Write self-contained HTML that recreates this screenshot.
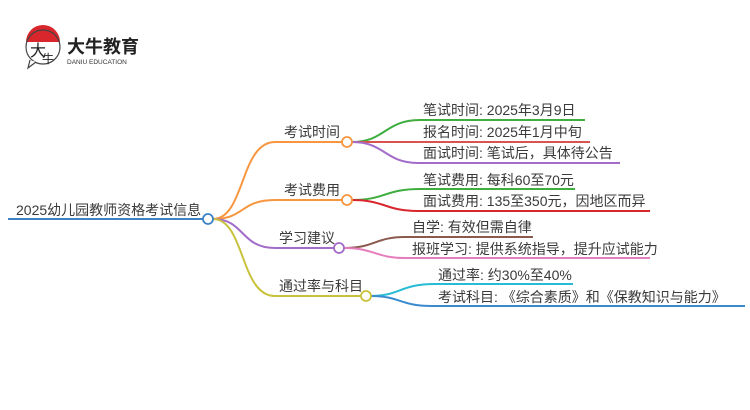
<!DOCTYPE html>
<html><head><meta charset="utf-8"><style>
html,body{margin:0;padding:0;background:#fff;width:750px;height:410px;overflow:hidden}
svg{display:block}
text{font-family:"Liberation Sans","Noto Sans CJK SC",sans-serif;fill:#3a3a3a}
</style></head><body>
<svg width="750" height="410" viewBox="0 0 750 410" xmlns="http://www.w3.org/2000/svg">
<!-- logo -->
<path d="M26 42 A17 17 0 0 1 60 42 Z" fill="#d8262c"/>
<circle cx="43" cy="47" r="17" fill="none" stroke="#444" stroke-width="1.2"/>
<path d="M30 60 L28 68 L36 62" fill="#fff" stroke="#444" stroke-width="1.2"/>
<text x="30" y="56" font-size="16" style="fill:#222">大</text>
<text x="42" y="63" font-size="12" style="fill:#222">牛</text>
<text x="67" y="53" font-size="18" font-weight="bold" style="fill:#222">大牛教育</text>
<text x="67" y="64" font-size="6.5" style="fill:#333">DANIU EDUCATION</text>

<g fill="none" stroke-width="2">
<line x1="8" y1="219" x2="203" y2="219" stroke="#3d82c4"/>
<path d="M213 219 C245 219 240 142 275 142 L342 142" stroke="#f7963f"/>
<path d="M213 219 C245 219 240 200 275 200 L342 200" stroke="#f7963f"/>
<path d="M213 219 C245 219 240 248 275 248 L334 248" stroke="#a26cc8"/>
<path d="M213 219 C245 219 240 296 275 296 L361 296" stroke="#c8c23c"/>
<path d="M352 142 C385 142 385 120 420 120 L585 120" stroke="#3fae3f"/>
<path d="M352 142 L590 142" stroke="#d9534f"/>
<path d="M352 142 C385 142 385 163 418 163 L620 163" stroke="#a26cc8"/>
<path d="M352 200 C385 200 385 189 420 189 L575 189" stroke="#3fae3f"/>
<path d="M352 200 C385 200 385 211 418 211 L650 211" stroke="#d9262c"/>
<path d="M344 248 C375 248 375 237 405 237 L533 237" stroke="#8a5a4e"/>
<path d="M344 248 C375 248 375 258 405 258 L650 258" stroke="#e67dbd"/>
<path d="M371 296 C400 296 400 284 435 284 L573 284" stroke="#27bcd3"/>
<path d="M371 296 C400 296 400 306 432 306 L745 306" stroke="#3a8ad0"/>
</g>
<g fill="#fff" stroke-width="1.8">
<circle cx="208" cy="219" r="5" stroke="#3d82c4"/>
<circle cx="347" cy="142" r="5" stroke="#f7963f"/>
<circle cx="347" cy="200" r="5" stroke="#f7963f"/>
<circle cx="339" cy="248" r="5" stroke="#a26cc8"/>
<circle cx="366" cy="296" r="5" stroke="#c8c23c"/>
</g>
<g font-size="14">
<text x="16" y="215">2025幼儿园教师资格考试信息</text>
<text x="284" y="137">考试时间</text>
<text x="284" y="195">考试费用</text>
<text x="279" y="243">学习建议</text>
<text x="279" y="291">通过率与科目</text>
<text x="423" y="115">笔试时间: 2025年3月9日</text>
<text x="423" y="137">报名时间: 2025年1月中旬</text>
<text x="423" y="158">面试时间: 笔试后，具体待公告</text>
<text x="423" y="185">笔试费用: 每科60至70元</text>
<text x="423" y="206">面试费用: 135至350元，因地区而异</text>
<text x="412" y="232">自学: 有效但需自律</text>
<text x="412" y="254">报班学习: 提供系统指导，提升应试能力</text>
<text x="438" y="280">通过率: 约30%至40%</text>
<text x="438" y="302">考试科目: 《综合素质》和《保教知识与能力》</text>
</g>
</svg>
</body></html>
